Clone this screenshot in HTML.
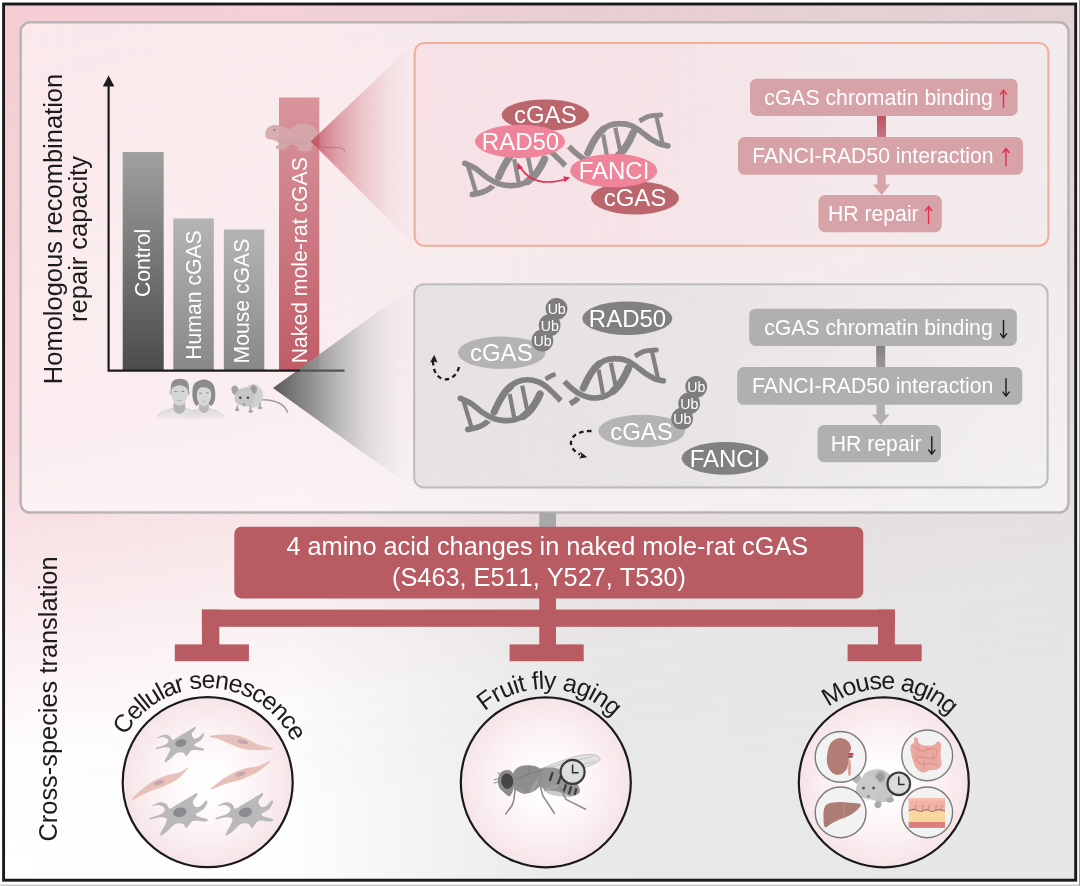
<!DOCTYPE html>
<html>
<head>
<meta charset="utf-8">
<title>Graphical abstract</title>
<style>
html,body{margin:0;padding:0;background:#fff;}
body{width:1080px;height:886px;overflow:hidden;font-family:"Liberation Sans",sans-serif;}
svg{display:block;will-change:transform;}
text{font-family:"Liberation Sans",sans-serif;}
</style>
</head>
<body>
<svg width="1080" height="886" viewBox="0 0 1080 886">
<defs>
  <linearGradient id="bgH" x1="0" y1="0" x2="1" y2="0">
    <stop offset="0" stop-color="#ffffff"/>
    <stop offset="0.27" stop-color="#fdfdfd"/>
    <stop offset="0.4" stop-color="#f3f3f3"/>
    <stop offset="0.53" stop-color="#e9e9e9"/>
    <stop offset="1" stop-color="#e6e6e6"/>
  </linearGradient>
  <linearGradient id="pinkH" x1="0" y1="0" x2="1" y2="0">
    <stop offset="0" stop-color="#f2c0c8" stop-opacity="0.8"/>
    <stop offset="0.5" stop-color="#e9bfc6" stop-opacity="0.68"/>
    <stop offset="1" stop-color="#dfbec3" stop-opacity="0.56"/>
  </linearGradient>
  <linearGradient id="maskV" gradientUnits="userSpaceOnUse" x1="0" y1="0" x2="127.6" y2="851">
    <stop offset="0.014" stop-color="#fff" stop-opacity="1"/>
    <stop offset="0.506" stop-color="#fff" stop-opacity="0.8"/>
    <stop offset="0.69" stop-color="#fff" stop-opacity="0.42"/>
    <stop offset="0.862" stop-color="#fff" stop-opacity="0.06"/>
    <stop offset="1" stop-color="#fff" stop-opacity="0"/>
  </linearGradient>
  <mask id="mPink" maskUnits="userSpaceOnUse" x="0" y="0" width="1080" height="886"><rect x="0" y="0" width="1080" height="886" fill="url(#maskV)"/></mask>
  <linearGradient id="barGray" x1="0" y1="0" x2="0" y2="1">
    <stop offset="0" stop-color="#a0a0a1"/>
    <stop offset="1" stop-color="#4b4b4d"/>
  </linearGradient>
  <linearGradient id="barGray2" x1="0" y1="0" x2="0" y2="1">
    <stop offset="0" stop-color="#b4b4b5"/>
    <stop offset="1" stop-color="#88888a"/>
  </linearGradient>
  <linearGradient id="barRed" x1="0" y1="0" x2="0" y2="1">
    <stop offset="0" stop-color="#d9959c"/>
    <stop offset="1" stop-color="#c05c68"/>
  </linearGradient>
  <linearGradient id="wedgeRed" gradientUnits="userSpaceOnUse" x1="311" y1="0" x2="415" y2="0">
    <stop offset="0" stop-color="#c04c5b" stop-opacity="0.9"/>
    <stop offset="0.1" stop-color="#c04c5b" stop-opacity="0.7"/>
    <stop offset="0.25" stop-color="#c04c5b" stop-opacity="0.47"/>
    <stop offset="0.5" stop-color="#c04c5b" stop-opacity="0.23"/>
    <stop offset="0.75" stop-color="#c04c5b" stop-opacity="0.07"/>
    <stop offset="1" stop-color="#c04c5b" stop-opacity="0"/>
  </linearGradient>
  <linearGradient id="wedgeGray" gradientUnits="userSpaceOnUse" x1="273" y1="0" x2="415" y2="0">
    <stop offset="0" stop-color="#58585a" stop-opacity="1"/>
    <stop offset="0.13" stop-color="#717173" stop-opacity="0.97"/>
    <stop offset="0.28" stop-color="#8d8d8f" stop-opacity="0.94"/>
    <stop offset="0.47" stop-color="#b4b3b5" stop-opacity="0.88"/>
    <stop offset="0.65" stop-color="#d3d0d2" stop-opacity="0.75"/>
    <stop offset="0.85" stop-color="#e8e3e5" stop-opacity="0.45"/>
    <stop offset="1" stop-color="#efe9eb" stop-opacity="0"/>
  </linearGradient>
  <linearGradient id="connRed" x1="0" y1="0" x2="0" y2="1">
    <stop offset="0" stop-color="#b95362"/>
    <stop offset="1" stop-color="#c97683"/>
  </linearGradient>
  <linearGradient id="connGray" x1="0" y1="0" x2="0" y2="1">
    <stop offset="0" stop-color="#7f7f7f"/>
    <stop offset="1" stop-color="#9a9a9a"/>
  </linearGradient>
  <radialGradient id="circFill" cx="0.5" cy="0.5" r="0.5">
    <stop offset="0" stop-color="#ffffff"/>
    <stop offset="0.3" stop-color="#fefbfc"/>
    <stop offset="0.65" stop-color="#fbf1f3"/>
    <stop offset="1" stop-color="#f6e4e7"/>
  </radialGradient>
<!--DNA--><g id="dnaShape" fill="none" stroke-linecap="round" stroke-linejoin="round">
<path d="M509.7 394.1L514.1 417.2M522.2 385.6L527.2 410.0" stroke-width="4.2" stroke-linecap="butt"/>
<path d="M463.3 400.3L471.7 427.8" stroke-width="4.2"/>
<path d="M545.6 379.2C546.4 378.7 548.9 377.0 550.6 376.1C552.2 375.3 554.7 374.4 555.6 374.1" stroke-width="4.6" stroke-linecap="butt"/>
<path d="M467.8 429.4C469.4 429.1 474.1 428.6 477.2 427.4C480.4 426.2 484.0 424.7 486.7 422.2C489.4 419.8 491.2 416.4 493.3 412.8C495.5 409.2 497.1 404.5 499.4 400.6C501.8 396.6 504.3 392.0 507.2 388.9C510.2 385.8 513.9 383.4 517.2 381.9C520.6 380.4 523.7 379.7 527.2 379.7C530.7 379.7 535.0 380.6 538.3 381.9C541.7 383.2 544.4 385.3 547.2 387.4C550.0 389.6 552.7 392.6 555.0 394.8C557.3 397.0 559.8 399.8 560.8 400.8" stroke-width="5.6" stroke-linecap="butt"/>
<path d="M467.8 429.4l0.1 0" stroke-width="5.6"/>
<path d="M480.0 410.8C481.4 411.7 485.6 414.6 488.3 416.1C491.1 417.6 495.3 419.0 496.7 419.6" stroke-width="8.6" stroke-linecap="butt" style="stroke:var(--gap)"/>
<path d="M460.3 398.3C462.2 399.3 467.9 401.5 471.7 403.9C475.4 406.3 479.1 410.3 482.8 412.8C486.5 415.2 490.2 417.3 493.9 418.6C497.6 419.9 501.3 420.4 505.0 420.6C508.7 420.7 512.6 420.5 516.1 419.4C519.6 418.4 523.1 416.7 526.1 414.4C529.1 412.2 531.7 409.1 533.9 406.1C536.1 403.1 538.1 398.5 539.2 396.3C540.4 394.1 540.5 393.6 540.8 393.0" stroke-width="5.6" stroke-linecap="butt"/>
<path d="M460.3 398.3l0.1 0" stroke-width="5.6"/>
<path d="M494.1 412.2C495.0 410.4 497.5 404.6 499.4 401.1C501.4 397.6 503.7 393.9 505.6 391.4C507.4 389.0 509.7 387.5 510.6 386.7" stroke-width="7" stroke-linecap="round"/>
<path d="M523.3 416.3C524.5 415.3 528.5 412.4 530.6 410.0C532.6 407.6 534.3 404.9 535.9 402.2C537.5 399.6 539.3 395.5 540.0 394.1" stroke-width="7.4" stroke-linecap="round"/>
<path d="M598.6 369.7L603.0 393.9M610.8 362.8L615.6 385.2" stroke-width="4.2" stroke-linecap="butt"/>
<path d="M652.2 352.8L658.1 378.6" stroke-width="4.2"/>
<path d="M635.0 356.1C636.5 355.3 640.3 352.5 643.9 351.4C647.4 350.4 654.3 350.2 656.3 350.0" stroke-width="4.8" stroke-linecap="butt"/>
<path d="M656.3 350.0l0.1 0" stroke-width="4.8"/>
<path d="M570.0 403.7C571.2 402.9 575.1 401.4 577.2 398.9C579.4 396.3 580.9 391.9 582.8 388.3C584.6 384.7 586.1 380.9 588.3 377.2C590.6 373.6 593.3 369.1 596.1 366.3C598.9 363.5 601.7 361.6 605.0 360.3C608.3 359.0 612.4 358.5 616.1 358.6C619.8 358.6 623.7 359.3 627.2 360.8C630.7 362.2 634.1 365.0 637.2 367.2C640.4 369.4 643.1 371.9 646.1 373.9C649.1 375.8 652.1 377.7 655.0 378.9C657.9 380.0 661.9 380.5 663.3 380.8" stroke-width="5.6" stroke-linecap="butt"/>
<path d="M663.3 380.8l0.1 0" stroke-width="5.6"/>
<path d="M568.3 385.2C569.5 386.2 573.1 389.3 575.6 391.1C578.1 392.9 582.0 395.1 583.3 395.9" stroke-width="8.6" stroke-linecap="butt" style="stroke:var(--gap)"/>
<path d="M564.4 381.4C565.6 382.6 569.2 386.3 571.7 388.3C574.2 390.4 576.7 392.4 579.4 393.9C582.2 395.4 585.4 396.6 588.3 397.2C591.3 397.9 594.1 398.2 597.2 397.9C600.4 397.6 604.1 396.8 607.2 395.2C610.4 393.7 613.5 391.2 616.1 388.6C618.7 385.9 620.8 382.6 622.8 379.4C624.7 376.3 626.7 371.6 627.8 369.4C628.9 367.3 629.0 367.1 629.2 366.7" stroke-width="5.6" stroke-linecap="butt"/>
<path d="M583.3 388.1C584.2 386.4 586.6 380.9 588.3 377.8C590.1 374.6 592.1 371.5 593.9 369.2C595.6 366.9 598.1 365.0 598.9 364.1" stroke-width="7" stroke-linecap="round"/>
<path d="M613.3 391.1C614.4 389.9 618.1 386.5 620.0 383.9C621.9 381.3 623.6 378.2 625.0 375.6C626.4 372.9 628.0 369.1 628.6 367.8" stroke-width="7.4" stroke-linecap="round"/>
</g><!--/DNA-->
<!--CELLDEF--><g id="starCell"><path d="M-23.9 -4.7C-23.8 -5.1 -19.4 -7.8 -17.3 -8.2C-15.2 -8.6 -13.0 -8.1 -11.5 -7.2C-10.0 -6.4 -9.7 -3.4 -8.3 -3.1C-7.0 -2.9 -5.7 -4.5 -3.1 -6.0C-0.6 -7.5 4.2 -10.3 7.1 -12.0C9.9 -13.6 12.6 -15.7 13.9 -16.1C15.1 -16.4 15.0 -15.4 14.5 -14.2C14.0 -13.0 11.0 -10.4 10.9 -8.8C10.7 -7.2 12.2 -4.9 13.4 -4.4C14.5 -3.9 16.4 -4.8 17.8 -5.7C19.2 -6.6 21.0 -9.3 21.9 -9.8C22.7 -10.2 23.3 -9.3 23.0 -8.2C22.7 -7.0 21.5 -4.4 20.0 -2.8C18.4 -1.3 14.5 0.2 13.7 1.3C12.9 2.3 13.7 2.7 15.3 3.5C16.8 4.2 21.8 5.0 22.8 5.7C23.9 6.3 23.5 7.3 21.6 7.6C19.6 7.8 13.5 6.5 11.0 7.2C8.6 8.0 7.8 11.0 6.8 12.0C5.7 12.9 5.6 13.3 4.9 12.9C4.2 12.5 4.1 10.3 2.7 9.8C1.3 9.2 -1.5 8.8 -3.6 9.8C-5.7 10.7 -8.0 13.7 -9.9 15.3C-11.9 16.8 -14.2 18.8 -15.3 19.2C-16.3 19.6 -16.7 19.2 -16.2 17.6C-15.7 16.1 -13.0 12.1 -12.1 10.1C-11.3 8.0 -10.3 6.3 -11.0 5.4C-11.8 4.4 -14.3 4.1 -16.5 4.2C-18.8 4.4 -23.1 5.9 -24.4 6.0C-25.7 6.0 -25.4 5.2 -24.1 4.6C-22.8 3.9 -18.4 2.9 -16.5 1.9C-14.6 0.9 -13.1 -0.2 -12.6 -1.3C-12.1 -2.3 -12.8 -3.6 -13.7 -4.4C-14.6 -5.2 -16.4 -5.9 -18.1 -6.0C-19.8 -6.0 -24.1 -4.4 -23.9 -4.7Z" fill="#b9b9ba"/><ellipse cx="0" cy="0" rx="5.6" ry="3.9" transform="rotate(-12)" fill="#8b8b8f"/></g><!--/CELLDEF-->
<linearGradient id="pinkPanel" x1="0" y1="0" x2="1" y2="0">
    <stop offset="0" stop-color="#f7d3dc" stop-opacity="0.38"/>
    <stop offset="0.45" stop-color="#f7d6de" stop-opacity="0.3"/>
    <stop offset="0.8" stop-color="#f8e2e8" stop-opacity="0.1"/>
    <stop offset="1" stop-color="#f8e2e8" stop-opacity="0.02"/>
  </linearGradient>
  <linearGradient id="grayPanel" x1="0" y1="0" x2="1" y2="0">
    <stop offset="0" stop-color="#d8d7d8" stop-opacity="0.52"/>
    <stop offset="0.45" stop-color="#dad9da" stop-opacity="0.44"/>
    <stop offset="0.8" stop-color="#e0e0e0" stop-opacity="0.2"/>
    <stop offset="1" stop-color="#e6e6e6" stop-opacity="0.04"/>
  </linearGradient>
</defs>

<!-- background -->
<rect x="0" y="0" width="1080" height="886" fill="#ffffff"/>
<rect x="3" y="3" width="1073" height="878" fill="url(#bgH)"/>
<rect x="3" y="3" width="1073" height="878" fill="url(#pinkH)" mask="url(#mPink)"/>

<!-- top big panel -->
<rect x="20.6" y="22.3" width="1047.9" height="490.3" rx="9.5" ry="9.5" fill="#ffffff" fill-opacity="0.55" stroke="#b9b4b7" stroke-width="2.5"/>

<!-- outer border -->
<rect x="3.6" y="4" width="1072.1" height="876.2" fill="none" stroke="#1a1a1a" stroke-width="2.9"/>
<rect x="0" y="884.5" width="1080" height="1.5" fill="#c9c9c9"/>
<rect x="1079" y="0" width="1" height="886" fill="#9a9a9a"/>

<!-- ===== CHART ===== -->
<g id="chart">
  <!-- wedges -->
  <!-- bars -->
  <rect x="122.7" y="152" width="41" height="218.5" fill="url(#barGray)"/>
  <rect x="173.3" y="218.5" width="40.5" height="152" fill="url(#barGray2)"/>
  <rect x="223.8" y="229.5" width="40.5" height="141" fill="url(#barGray2)"/>
  <rect x="279" y="97.5" width="40.3" height="273" fill="url(#barRed)"/>
  <!--NMR--><g id="nmr" opacity="0.9">
<path d="M313.3 145.6C315.6 145.9 323.1 147.1 327.2 147.4C331.4 147.7 335.7 147.4 338.3 147.6C341.0 147.8 341.9 148.2 343.0 148.8C344.0 149.4 344.4 150.9 344.6 151.3" fill="none" stroke="#d3a3a8" stroke-width="1.2" stroke-linecap="round"/>
<path d="M265.4 134.4C265.5 133.1 265.5 130.4 266.6 128.9C267.6 127.4 269.6 126.0 271.7 125.4C273.8 124.8 276.8 124.8 279.1 125.2C281.4 125.6 283.7 127.3 285.6 128.0C287.4 128.6 288.5 129.4 290.2 128.9C291.9 128.4 293.6 126.0 295.7 125.2C297.9 124.3 300.5 123.7 303.1 123.8C305.8 123.9 309.2 124.5 311.5 125.6C313.8 126.8 315.8 129.0 317.0 130.7C318.3 132.5 319.2 134.4 318.9 136.3C318.6 138.1 316.3 140.2 315.2 141.9C314.0 143.5 312.7 145.0 311.9 146.5C311.2 147.9 311.7 149.8 310.6 150.6C309.4 151.5 307.0 151.3 305.0 151.3C303.0 151.3 299.9 151.5 298.5 150.6C297.1 149.8 297.7 147.5 296.7 146.5C295.6 145.5 293.7 144.5 292.0 144.6C290.3 144.8 288.0 146.6 286.5 147.4C284.9 148.2 284.4 149.2 282.8 149.4C281.2 149.7 277.9 149.6 276.8 149.1C275.6 148.6 275.4 147.4 275.8 146.5C276.2 145.6 279.2 144.7 279.1 143.7C278.9 142.7 276.6 141.2 274.9 140.5C273.2 139.7 270.4 139.8 268.9 139.3C267.4 138.7 266.5 138.0 265.9 137.2C265.3 136.4 265.3 135.8 265.4 134.4Z" fill="#d4a9ad"/>
<circle cx="274.4" cy="129.8" r="0.9" fill="#6e5558"/>
<path d="M277.2 137.2C278.1 138.1 280.9 142.2 282.8 142.8C284.6 143.4 286.5 140.9 288.3 140.9C290.2 140.9 291.4 142.8 293.9 142.8C296.4 142.8 301.6 141.2 303.1 140.9" fill="none" stroke="#b99a96" stroke-width="1.6" stroke-dasharray="0.8 1.2" opacity="0.7"/>
</g><!--/NMR-->
  <polygon points="310.6,141.6 415,42.5 415,245.5" fill="url(#wedgeRed)"/>
  <polygon points="273,388 415,285 415,490" fill="url(#wedgeGray)"/>
  <!-- axes -->
  <path d="M300 370.7 H344.5" fill="none" stroke="#545456" stroke-width="2.2"/>
  <path d="M108.6 84 V370.7 H300" fill="none" stroke="#1c1c1c" stroke-width="2.2"/>
  <polygon points="108.6,75.5 114.4,86.5 102.8,86.5" fill="#1c1c1c"/>
  <!-- bar labels -->
  <g fill="#ffffff" font-size="21.2px">
    <text transform="translate(149.6,297) rotate(-90)">Control</text>
    <text transform="translate(200.5,359.8) rotate(-90)">Human cGAS</text>
    <text transform="translate(248.9,363.5) rotate(-90)">Mouse cGAS</text>
    <text transform="translate(306.5,363.3) rotate(-90)">Naked mole-rat cGAS</text>
  </g>
  <!-- y label -->
  <g fill="#1c1c1c" font-size="25.5px" text-anchor="middle">
    <text transform="translate(61.5,229) rotate(-90)">Homologous recombination</text>
    <text transform="translate(86.8,239) rotate(-90)">repair capacity</text>
  </g>
</g>

<!-- ===== PINK PANEL ===== -->
<g id="pinkpanel">
  <rect x="414.7" y="43" width="633.7" height="202.7" rx="9.5" ry="9.5" fill="url(#pinkPanel)" stroke="#f3ad99" stroke-width="2.1"/>
  <use href="#dnaShape" transform="translate(4.5,-235)" stroke="#8f8a8b" style="--gap:#f6e0e5"/>
  <ellipse cx="545.3" cy="115" rx="43.7" ry="15.6" fill="#bb666d"/>
  <ellipse cx="635" cy="198" rx="44" ry="16.4" fill="#bb666d"/>
  <ellipse cx="520" cy="141.4" rx="45" ry="16.6" fill="#ef849b"/>
  <ellipse cx="613.7" cy="170.7" rx="43.6" ry="16.6" fill="#ef849b"/>
  <g fill="#ffffff" font-size="24px" text-anchor="middle">
    <text x="545.3" y="123.3">cGAS</text>
    <text x="520.5" y="149.7">RAD50</text>
    <text x="614" y="179">FANCI</text>
    <text x="635" y="206.3">cGAS</text>
  </g>
  <!-- red double arrow -->
  <path d="M519.5 166 Q533 189 566.5 179" fill="none" stroke="#e0304e" stroke-width="1.6"/>
  <polygon points="517.6,162.6 523.2,168.2 517.3,169.6" fill="#e0304e"/>
  <polygon points="570.2,177.6 564.6,182.3 563.4,176.3" fill="#e0304e"/>
  <!-- boxes -->
  <rect x="877" y="115" width="9" height="23" fill="url(#connRed)"/>
  <rect x="877.3" y="174" width="8.4" height="12" fill="#d7a3a8"/>
  <polygon points="872.8,184.4 890.2,184.4 881.5,195" fill="#d7a3a8"/>
  <rect x="750" y="78.7" width="267.6" height="37.3" rx="6.5" fill="#d7a3a8"/>
  <rect x="738" y="137" width="285" height="37.8" rx="6.5" fill="#d7a3a8"/>
  <rect x="818.4" y="195" width="123.4" height="37.2" rx="6.5" fill="#d7a3a8"/>
  <g fill="#ffffff" font-size="21.2px">
    <text x="764.3" y="104.6">cGAS chromatin binding</text>
    <text x="752.2" y="162.8">FANCI-RAD50 interaction</text>
    <text x="828" y="220.7">HR repair</text>
  </g>
  <g stroke="#e0304e" stroke-width="1.4" fill="none">
    <path id="upArr" d="M0 9 V-8.5 M-3.4 -4.3 L0 -8.8 L3.4 -4.3" transform="translate(1003.5,99)"/>
    <path d="M0 9 V-8.5 M-3.4 -4.3 L0 -8.8 L3.4 -4.3" transform="translate(1006,157.3)"/>
    <path d="M0 9 V-8.5 M-3.4 -4.3 L0 -8.8 L3.4 -4.3" transform="translate(928.6,215.3)"/>
  </g>
</g>

<!-- ===== GRAY PANEL ===== -->
<g id="graypanel">
  <rect x="414.2" y="284.3" width="633.4" height="203.1" rx="9.5" ry="9.5" fill="url(#grayPanel)" stroke="#bebdbe" stroke-width="2.1"/>
  <use href="#dnaShape" stroke="#808080" style="--gap:#e4e1e2"/>
  <ellipse cx="501.7" cy="352.7" rx="43.8" ry="16.2" fill="#b4b4b5"/>
  <ellipse cx="641.7" cy="431" rx="43.4" ry="16.2" fill="#b4b4b5"/>
  <ellipse cx="627.3" cy="318.3" rx="45" ry="16.7" fill="#818181"/>
  <ellipse cx="725" cy="458.3" rx="43.4" ry="16.4" fill="#818181"/>
  <g fill="#7d7d7e">
    <circle cx="556.5" cy="308.8" r="10.9"/><circle cx="549.6" cy="325.2" r="10.9"/><circle cx="542.4" cy="340.5" r="10.9"/><circle cx="696.2" cy="386.8" r="10.9"/><circle cx="689.1" cy="403.4" r="10.9"/><circle cx="682.1" cy="418.6" r="10.9"/>
  </g>
  <g fill="#ffffff" font-size="14.2px" text-anchor="middle">
    <text x="556.7" y="314.3">Ub</text><text x="549.8" y="330.7">Ub</text><text x="542.6" y="346.0">Ub</text><text x="696.4" y="392.3">Ub</text><text x="689.3" y="408.9">Ub</text><text x="682.3" y="424.1">Ub</text>
  </g>
  <g fill="#ffffff" font-size="24px" text-anchor="middle">
    <text x="501.3" y="361.3">cGAS</text>
    <text x="627.5" y="327">RAD50</text>
    <text x="641.5" y="439.6">cGAS</text>
    <text x="725" y="467">FANCI</text>
  </g>
  <!-- dashed arrows -->
  <g fill="none" stroke="#1c1c1c" stroke-width="2.3" stroke-dasharray="4.4 3.6">
    <path d="M459 367 C456.5 377.5 447.5 381.5 441 378.3 C436 375.8 433.2 370 433 361"/>
    <path d="M591.5 431 C567 431 566 448 580 454.5"/>
  </g>
  <polygon points="434.2,354.8 437.6,362.6 433.6,361.3 430,362.8" fill="#1c1c1c"/>
  <polygon points="587.3,457.2 579.2,458.6 581.4,455.2 579.8,451.6" fill="#1c1c1c"/>
  <!-- boxes -->
  <g transform="translate(-0.8,-11)">
  <rect x="877" y="356" width="9" height="23" fill="url(#connGray)"/>
  <rect x="877.3" y="415" width="8.4" height="12" fill="#b0b0b1"/>
  <polygon points="872.8,425.4 890.2,425.4 881.5,436" fill="#b0b0b1"/>
  <rect x="750" y="319.7" width="267.6" height="37.3" rx="6.5" fill="#b0b0b1"/>
  <rect x="738" y="378" width="285" height="37.8" rx="6.5" fill="#b0b0b1"/>
  <rect x="818.4" y="436" width="123.4" height="37.2" rx="6.5" fill="#b0b0b1"/>
  <g fill="#ffffff" font-size="21.2px">
    <text x="765" y="345.6">cGAS chromatin binding</text>
    <text x="752.8" y="403.8">FANCI-RAD50 interaction</text>
    <text x="831.6" y="461.7">HR repair</text>
  </g>
  <g stroke="#1c1c1c" stroke-width="1.4" fill="none">
    <path d="M0 -9 V8.5 M-3.4 4.3 L0 8.8 L3.4 4.3" transform="translate(1004.3,340)"/>
    <path d="M0 -9 V8.5 M-3.4 4.3 L0 8.8 L3.4 4.3" transform="translate(1006.8,398.3)"/>
    <path d="M0 -9 V8.5 M-3.4 4.3 L0 8.8 L3.4 4.3" transform="translate(932.6,456.3)"/>
  </g>
  </g>
</g>

<!-- ===== BOTTOM ===== -->
<g id="bottom">
  <rect x="539.3" y="512.5" width="16.7" height="16" fill="#a9a8a9"/>
  <g fill="#b85b63">
    <rect x="234.3" y="526.8" width="629" height="71.6" rx="7" ry="7"/>
    <rect x="201.9" y="609.6" width="693" height="17.2"/>
    <rect x="201.9" y="609.6" width="17.4" height="36"/>
    <rect x="539.3" y="596" width="16.7" height="50"/>
    <rect x="878" y="609.6" width="16.9" height="36"/>
    <rect x="174.8" y="644.4" width="74.1" height="16.8"/>
    <rect x="509.6" y="644.4" width="74.1" height="16.8"/>
    <rect x="847.6" y="644.4" width="74.1" height="16.8"/>
  </g>
  <g fill="#ffffff" font-size="25.3px" text-anchor="middle">
    <text x="547.3" y="555.2">4 amino acid changes in naked mole-rat cGAS</text>
    <text x="539" y="585.8" style="font-kerning:none">(S463, E511, Y527, T530)</text>
  </g>
  <text x="0" y="0" transform="translate(57,699) rotate(-90)" font-size="25.4px" fill="#1c1c1c" text-anchor="middle">Cross-species translation</text>
  <!-- circles -->
  <g stroke="#1a1a1a" stroke-width="2.2" fill="url(#circFill)">
    <circle cx="207.7" cy="782.2" r="85"/>
    <circle cx="545.8" cy="782.3" r="85"/>
    <circle cx="883.8" cy="782.3" r="85"/>
  </g>
  <!-- arc labels -->
  <path id="arc1" d="M113.5 782.1 A94 94 0 0 1 301.5 782.1" fill="none"/>
  <path id="arc2" d="M452.1 782.3 A93.4 93.4 0 0 1 638.9 782.3" fill="none"/>
  <path id="arc3" d="M790.4 782.3 A93.4 93.4 0 0 1 977.2 782.3" fill="none"/>
  <g font-size="25px" fill="#1c1c1c" text-anchor="middle" letter-spacing="-1.1">
    <text><textPath href="#arc1" startOffset="51%">Cellular senescence</textPath></text>
    <text letter-spacing="-0.65"><textPath href="#arc2" startOffset="51.4%">Fruit fly aging</textPath></text>
    <text><textPath href="#arc3" startOffset="52.1%">Mouse aging</textPath></text>
  </g>
</g>

<!--CELLS--><g id="cells">
<path d="M210.0 736.2C211.3 735.5 221.8 734.5 227.3 734.7C232.8 734.9 237.8 735.6 243.1 737.4C248.3 739.1 253.8 743.0 258.8 744.9C263.8 746.8 273.0 748.0 273.0 748.8C273.0 749.7 263.8 750.0 258.8 749.9C253.8 749.9 247.5 749.3 243.1 748.4C238.6 747.5 236.0 746.2 232.0 744.6C228.1 743.0 223.1 740.3 219.4 738.9C215.8 737.5 208.7 737.0 210.0 736.2Z" fill="#e7c0b9" stroke="#e3b5b0" stroke-width="0.4"/>
<ellipse cx="242.7" cy="741.8" rx="5.3" ry="2" transform="rotate(12 242.7 741.8)" fill="#c6a4ae"/>
<path d="M132.1 799.2C132.1 798.0 143.2 788.1 148.6 784.3C154.0 780.5 159.1 778.4 164.4 776.4C169.6 774.4 176.2 773.9 180.1 772.5C184.0 771.0 188.2 766.8 188.0 767.7C187.7 768.6 182.5 774.9 178.5 778.0C174.6 781.0 169.3 783.6 164.4 785.8C159.4 788.1 154.0 789.4 148.6 791.7C143.2 793.9 132.1 800.4 132.1 799.2Z" fill="#e7c0b9" stroke="#e3b5b0" stroke-width="0.4"/>
<ellipse cx="158.8" cy="782.7" rx="5.3" ry="2" transform="rotate(-22 158.8 782.7)" fill="#c6a4ae"/>
<path d="M210.8 789.0C210.8 787.9 221.9 779.7 227.3 776.4C232.7 773.1 237.8 771.0 243.1 769.3C248.3 767.6 254.3 767.5 258.8 766.2C263.3 764.8 269.8 760.6 269.8 761.4C269.8 762.2 263.3 768.0 258.8 770.9C254.3 773.8 248.3 776.7 243.1 778.7C237.8 780.8 232.7 781.3 227.3 783.0C221.9 784.7 210.8 790.1 210.8 789.0Z" fill="#e7c0b9" stroke="#e3b5b0" stroke-width="0.4"/>
<ellipse cx="240.7" cy="774.0" rx="5.3" ry="2" transform="rotate(-20 240.7 774.0)" fill="#c6a4ae"/>
<use href="#starCell" transform="translate(180.9,743.0)"/>
<use href="#starCell" transform="translate(179.8,812.3) scale(1.2)"/>
<use href="#starCell" transform="translate(245.4,812.3) scale(1.2)"/>
</g><!--/CELLS-->
<!--FLY--><g id="fly">
<path d="M535.9 772.2C537.5 769.8 547.5 766.2 554.4 763.5C561.4 760.8 571.0 757.4 577.6 756.0C584.2 754.5 590.0 754.4 593.8 754.8C597.6 755.3 600.2 757.3 600.2 758.9C600.2 760.4 597.6 762.3 593.8 764.1C590.0 765.9 583.2 768.0 577.6 769.9C572.0 771.8 565.6 774.3 560.2 775.7C554.8 777.0 549.2 778.6 545.2 778.0C541.1 777.4 534.4 774.6 535.9 772.2Z" fill="#d9d9d9" fill-opacity="0.75" stroke="#9a9a9a" stroke-width="0.5"/>
<path d="M539.4 771.0L566.0 762.4L592.6 756.6M545.2 775.3L575.3 766.4L596.1 761.2" fill="none" stroke="#a8a8a8" stroke-width="0.5"/>
<path d="M539.4 769.9C541.1 767.1 546.1 767.6 549.8 767.6C553.5 767.6 557.5 768.1 561.4 769.9C565.2 771.7 570.0 775.6 573.0 778.6C576.0 781.6 578.4 785.3 579.3 787.8C580.3 790.3 580.2 792.2 578.8 793.6C577.3 795.1 573.9 796.2 570.6 796.5C567.4 796.8 562.9 796.3 559.1 795.3C555.2 794.4 550.8 792.6 547.5 790.7C544.2 788.9 540.7 787.8 539.4 784.4C538.0 780.9 537.7 772.7 539.4 769.9Z" fill="#959595"/>
<path d="M552.7 772.2L549.8 780.9" stroke="#3c3c3c" stroke-width="2.2" fill="none"/>
<path d="M560.8 776.2L557.3 785.5" stroke="#3c3c3c" stroke-width="2.2" fill="none"/>
<path d="M566.0 784.4L563.7 791.3" stroke="#3c3c3c" stroke-width="2.2" fill="none"/>
<path d="M571.2 786.1L568.9 794.2" stroke="#3c3c3c" stroke-width="2.2" fill="none"/>
<path d="M576.4 788.4L574.7 794.8" stroke="#3c3c3c" stroke-width="2.2" fill="none"/>
<path d="M545.2 790.7C546.3 790.2 552.5 790.3 556.8 791.3C561.0 792.3 569.9 795.6 570.6 796.5C571.4 797.4 564.9 796.9 561.4 796.5C557.9 796.1 552.5 795.2 549.8 794.2C547.1 793.2 544.0 791.2 545.2 790.7Z" fill="#c9c9c9"/>
<path d="M512.8 773.9C513.7 771.4 515.9 768.4 518.6 767.0C521.3 765.5 525.5 765.1 529.0 765.3C532.5 765.4 537.1 766.5 539.4 768.1C541.7 769.8 542.7 772.4 542.9 775.1C543.1 777.8 542.1 781.7 540.6 784.4C539.0 787.1 536.3 789.8 533.6 791.3C530.9 792.8 527.2 793.8 524.4 793.6C521.5 793.4 518.2 792.1 516.2 790.1C514.3 788.2 513.4 784.7 512.8 782.0C512.2 779.3 511.8 776.4 512.8 773.9Z" fill="#8e8e8e"/>
<path d="M529.0 766.4L529.6 773.9L542.9 769.9M529.6 773.9L515.1 779.7" stroke="#6f6f6f" stroke-width="0.6" fill="none"/>
<path d="M515.3 788.1L523.8 792.5" fill="none" stroke="#969696" stroke-width="3" stroke-linecap="round" stroke-linejoin="round"/>
<path d="M515.3 788.1L513.9 799.4L512.2 805.2L505.8 813.9" fill="none" stroke="#8b8b8b" stroke-width="1.6" stroke-linecap="round" stroke-linejoin="round"/>
<path d="M531.3 790.7L538.5 779.7" fill="none" stroke="#a2a2a2" stroke-width="3" stroke-linecap="round" stroke-linejoin="round"/>
<path d="M538.5 779.7L542.9 795.9L554.4 813.3" fill="none" stroke="#8b8b8b" stroke-width="1.6" stroke-linecap="round" stroke-linejoin="round"/>
<path d="M545.2 789.6L559.1 785.5" fill="none" stroke="#a2a2a2" stroke-width="3" stroke-linecap="round" stroke-linejoin="round"/>
<path d="M559.1 785.5L566.0 799.4L585.7 809.2" fill="none" stroke="#8b8b8b" stroke-width="1.6" stroke-linecap="round" stroke-linejoin="round"/>
<path d="M498.0 779.7C498.1 777.6 498.7 775.3 499.8 773.7C501.0 772.1 503.0 770.7 504.9 770.2C506.8 769.8 509.5 769.9 511.0 771.0C512.6 772.1 513.6 774.4 514.2 776.8C514.7 779.2 514.4 783.0 514.2 785.5C513.9 788.0 513.3 790.1 512.5 791.9C511.8 793.6 510.6 795.7 509.5 796.2C508.5 796.6 507.6 795.6 506.4 794.8C505.2 793.9 503.6 792.4 502.4 791.1C501.1 789.7 499.6 788.6 498.9 786.7C498.2 784.8 497.8 781.9 498.0 779.7Z" fill="#8c8c8c"/>
<path d="M498.7 778.6L494.3 779.7M498.7 781.5L494.0 783.2M500.6 774.5L497.7 772.8" stroke="#8c8c8c" stroke-width="1" fill="none" stroke-linecap="round"/>
<ellipse cx="507.2" cy="781.1" rx="5.9" ry="7.7" transform="rotate(-6 507.2 781.1)" fill="#454545"/>
<circle cx="572.6" cy="771.9" r="12" fill="#dedede" stroke="#3a3a3a" stroke-width="2.2"/>
<circle cx="572.6" cy="771.9" r="9.6" fill="none" stroke="#9a9a9a" stroke-width="0.9" stroke-dasharray="0.5 4.53"/>
<path d="M572.6 764.4V772.7H578.6" fill="none" stroke="#2e2e2e" stroke-width="1.5"/>
</g><!--/FLY-->
<!--MOUSE--><g id="mouseaging">
<path d="M864.3 773.9C866.5 771.4 871.2 769.9 874.6 769.4C878.1 769.0 882.0 769.4 885.0 770.9C888.0 772.4 890.8 775.4 892.4 778.3C894.0 781.3 894.6 785.5 894.6 788.7C894.6 791.9 894.0 795.4 892.4 797.6C890.8 799.8 888.0 801.5 885.0 802.0C882.0 802.5 878.1 801.8 874.6 800.6C871.2 799.3 866.5 797.3 864.3 794.6C862.0 791.9 861.3 787.7 861.3 784.3C861.3 780.8 862.0 776.4 864.3 773.9Z" fill="#c6c6c6"/>
<path d="M875.4 802.0C876.3 801.2 879.6 800.7 880.6 801.3C881.5 801.9 881.7 804.6 881.3 805.7C880.9 806.9 879.4 808.1 878.3 808.3C877.3 808.4 875.4 807.5 874.9 806.5C874.4 805.4 874.4 802.9 875.4 802.0Z" fill="#ababab"/>
<path d="M887.2 798.3C888.2 797.7 891.3 797.2 892.4 797.6C893.5 798.0 894.3 799.7 893.9 800.6C893.5 801.4 891.4 802.7 890.2 802.8C889.0 802.9 887.0 802.0 886.5 801.3C886.0 800.6 886.2 799.0 887.2 798.3Z" fill="#ababab"/>
<ellipse cx="856.9" cy="778.6" rx="4.4" ry="5.2" transform="rotate(-30 856.9 778.6)" fill="#b4b4b4"/>
<ellipse cx="880.1" cy="777.1" rx="5.2" ry="6" transform="rotate(20 880.1 777.1)" fill="#a9a9a9"/>
<ellipse cx="880.1" cy="777.4" rx="3.3" ry="4.2" transform="rotate(20 880.1 777.1)" fill="#999999"/>
<path d="M856.1 788.7C856.4 786.5 857.2 782.7 859.1 780.6C860.9 778.5 864.4 776.5 867.2 776.1C870.1 775.7 873.8 776.7 876.1 778.3C878.5 779.9 880.7 783.3 881.3 785.7C881.9 788.2 881.0 791.0 879.8 793.1C878.6 795.2 875.7 797.3 873.9 798.3C872.0 799.4 870.6 799.5 868.7 799.4C866.9 799.2 864.6 798.5 862.8 797.6C860.9 796.7 858.7 795.4 857.6 793.9C856.5 792.4 855.9 790.9 856.1 788.7Z" fill="#c9c9c9"/>
<circle cx="863.5" cy="788.1" r="1.5" fill="#5a5a5a"/>
<circle cx="873.6" cy="788.1" r="1.5" fill="#5a5a5a"/>
<ellipse cx="868.4" cy="796.4" rx="1.7" ry="1.3" fill="#8f8f8f"/>
<circle cx="840.6" cy="756.9" r="25.4" fill="#f3f2f2" stroke="#7b7b7b" stroke-width="1.4"/>
<circle cx="927.2" cy="755.4" r="25.4" fill="#f3f2f2" stroke="#7b7b7b" stroke-width="1.4"/>
<circle cx="840.6" cy="812.4" r="25.4" fill="#f3f2f2" stroke="#7b7b7b" stroke-width="1.4"/>
<circle cx="927.2" cy="812.4" r="25.4" fill="#f3f2f2" stroke="#7b7b7b" stroke-width="1.4"/>
<path d="M849.1 758.3C849.8 759.0 850.7 760.8 850.9 763.5C851.2 766.2 851.1 772.8 850.6 774.6C850.2 776.5 848.7 776.2 848.3 774.6C847.8 773.0 848.2 767.5 848.0 765.0C847.7 762.5 846.6 760.9 846.8 759.8C847.0 758.7 848.5 757.7 849.1 758.3Z" fill="#d9a79a"/>
<rect x="846.5" y="752.9" width="6.8" height="2.7" fill="#c8433f" />
<rect x="846.5" y="755.5" width="6.2" height="2.4" fill="#6e6a6e" />
<path d="M827.2 754.6C827.8 750.9 828.8 745.5 830.9 742.8C833.0 740.0 837.0 738.3 839.8 738.0C842.7 737.8 846.1 739.5 848.0 741.3C849.9 743.1 851.2 746.4 851.2 748.7C851.2 751.0 848.5 753.1 848.0 755.4C847.5 757.6 848.5 759.7 848.3 762.0C848.0 764.4 847.9 767.3 846.5 769.4C845.1 771.5 842.2 774.0 839.8 774.6C837.5 775.2 834.5 774.8 832.4 773.1C830.4 771.5 828.4 768.1 827.5 765.0C826.7 761.9 826.7 758.3 827.2 754.6Z" fill="#b27d74"/>
<path d="M910.5 745.7C910.9 743.8 913.2 744.1 913.9 742.8C914.6 741.4 914.0 738.3 914.6 737.6C915.2 736.9 916.9 737.3 917.6 738.3C918.3 739.3 917.6 742.3 919.1 743.5C920.6 744.8 924.0 745.5 926.5 745.7C929.0 746.0 932.0 745.7 933.9 745.0C935.7 744.3 936.4 741.7 937.6 741.6C938.8 741.5 940.5 742.1 941.0 744.3C941.5 746.4 940.5 751.2 940.6 754.6C940.6 758.1 941.9 762.5 941.3 765.0C940.7 767.5 938.8 768.6 936.9 769.4C934.9 770.3 931.7 769.6 929.4 770.2C927.2 770.7 925.5 772.8 923.5 772.7C921.5 772.6 919.2 771.0 917.6 769.4C916.0 767.9 914.9 766.0 913.9 763.5C912.9 761.0 911.9 757.6 911.4 754.6C910.8 751.7 910.1 747.7 910.5 745.7Z" fill="#eaa9a1"/>
<path d="M914.6 747.2C915.9 747.8 919.3 750.7 922.0 750.9C924.8 751.2 928.5 748.8 930.9 748.7C933.4 748.6 936.1 748.8 936.9 750.2C937.6 751.5 936.9 755.5 935.4 756.9C933.9 758.2 930.4 758.3 928.0 758.3C925.5 758.3 922.5 756.6 920.6 756.9C918.6 757.1 915.9 758.6 916.1 759.8C916.4 761.0 919.6 763.6 922.0 764.3C924.5 764.9 928.5 763.4 930.9 763.5C933.4 763.6 935.9 764.8 936.9 765.0" fill="none" stroke="#d98d88" stroke-width="1.1" stroke-linecap="round"/>
<path d="M917.6 742.8C917.7 744.3 918.7 749.3 918.3 751.7C918.0 754.0 915.9 756.0 915.4 756.9M926.5 747.2L925.7 755.4M932.4 751.7L933.1 761.3M923.5 759.8L924.3 768.7" fill="none" stroke="#dc928c" stroke-width="0.9" stroke-linecap="round"/>
<path d="M824.3 808.0C825.1 805.5 826.2 804.5 828.7 803.5C831.2 802.5 835.6 802.2 839.1 802.0C842.5 801.9 845.9 802.4 849.4 802.8C853.0 803.1 859.3 803.0 860.6 804.3C861.8 805.5 858.7 808.3 856.9 810.2C855.0 812.0 852.2 813.9 849.4 815.4C846.7 816.9 843.5 817.7 840.6 819.1C837.6 820.4 834.3 822.2 831.7 823.5C829.1 824.9 826.4 828.1 825.0 827.2C823.6 826.4 823.6 821.5 823.5 818.3C823.4 815.1 823.4 810.4 824.3 808.0Z" fill="#ad7c74"/>
<path d="M843.8 803.2L844.4 819.1" stroke="#c9a08f" stroke-width="0.6"/>
<rect x="908.7" y="798.3" width="36.3" height="12.6" fill="#f2b3a2" />
<rect x="908.7" y="798.3" width="36.3" height="2.5" fill="#f5bdb3" />
<rect x="908.7" y="810.9" width="36.3" height="11.9" fill="#f9d89c" />
<rect x="908.7" y="822.0" width="36.3" height="5.9" fill="#dc7d80" />
<path d="M908.7 810.6C909.7 810.4 912.7 809.3 914.6 809.4C916.6 809.6 918.6 811.5 920.6 811.5C922.5 811.6 924.5 809.7 926.5 809.7C928.5 809.7 930.4 811.5 932.4 811.5C934.4 811.5 936.2 809.8 938.3 809.7C940.4 809.6 943.9 810.7 945.0 810.9" fill="none" stroke="#85686e" stroke-width="1"/>
<path d="M914.6 809.7l1.5 -5M922.0 810.9l1 -6M928.0 810.0l1.5 -6M935.4 810.6l1 -6M941.3 810.3l1 -6" stroke="#a07f8a" stroke-width="0.7" fill="none"/>
<circle cx="898.8" cy="783.8" r="11.3" fill="#dcdbdb" stroke="#3a3a3a" stroke-width="2.2"/>
<circle cx="898.8" cy="783.8" r="8.9" fill="none" stroke="#9a9a9a" stroke-width="0.9" stroke-dasharray="0.5 4.16"/>
<path d="M898.8 776.5V784.6H904.6" fill="none" stroke="#2e2e2e" stroke-width="1.5"/>
</g><!--/MOUSE-->
<!--ICONS--><g id="chartIcons">
<defs><linearGradient id="shFade" x1="0" y1="0" x2="0" y2="1"><stop offset="0" stop-color="#d6d6d6" stop-opacity="0.95"/><stop offset="0.55" stop-color="#dedede" stop-opacity="0.7"/><stop offset="1" stop-color="#e8e4e5" stop-opacity="0"/></linearGradient></defs>
<path d="M156.2 416.4C156.2 415.1 159.8 412.9 162.5 411.6C165.2 410.2 169.4 409.2 172.2 408.4C175.0 407.6 177.0 406.7 179.4 406.7C181.9 406.7 184.1 407.6 186.8 408.4C189.5 409.2 193.4 410.2 195.8 411.6C198.3 412.9 201.4 415.1 201.4 416.4C201.4 417.8 199.5 419.2 195.8 419.9C192.2 420.7 185.0 420.9 179.4 420.9C173.9 420.9 166.4 420.7 162.5 419.9C158.6 419.2 156.2 417.8 156.2 416.4Z" fill="url(#shFade)"/>
<path d="M182.6 416.4C182.6 415.2 186.5 413.5 188.9 412.3C191.3 411.1 194.7 410.0 197.2 409.2C199.7 408.5 201.6 407.8 203.9 407.8C206.2 407.8 208.5 408.5 211.1 409.2C213.7 410.0 217.2 411.1 219.4 412.3C221.6 413.5 224.3 415.2 224.3 416.4C224.3 417.7 222.8 419.2 219.4 419.9C216.0 420.7 209.0 420.9 203.9 420.9C198.8 420.9 192.4 420.7 188.9 419.9C185.3 419.2 182.6 417.7 182.6 416.4Z" fill="url(#shFade)"/>
<path d="M157.2 416.2C158.1 415.4 160.0 412.9 162.5 411.6C165.0 410.3 169.4 409.2 172.2 408.4C175.0 407.6 177.0 406.7 179.4 406.7C181.9 406.7 184.4 407.6 186.8 408.4C189.3 409.1 192.9 410.7 194.2 411.2" fill="none" stroke="#c2c2c2" stroke-width="0.5"/>
<path d="M191.7 410.6C192.6 410.4 195.2 409.7 197.2 409.2C199.3 408.8 201.6 407.8 203.9 407.8C206.2 407.8 208.5 408.5 211.1 409.2C213.7 410.0 217.4 411.1 219.4 412.3C221.5 413.4 222.9 415.5 223.6 416.2" fill="none" stroke="#c2c2c2" stroke-width="0.5"/>
<path d="M174.7 401.9C176.4 400.5 182.4 400.5 184.0 401.9C185.7 403.2 185.5 408.2 184.7 410.2C184.0 412.2 181.2 413.7 179.4 413.7C177.6 413.7 174.7 412.2 173.9 410.2C173.1 408.2 173.0 403.2 174.7 401.9Z" fill="#b4b4b4"/>
<path d="M200.0 403.2C201.4 402.1 206.7 402.1 208.1 403.2C209.4 404.4 209.0 408.6 208.3 410.2C207.6 411.8 205.4 413.0 203.9 413.0C202.4 413.0 200.1 411.8 199.4 410.2C198.8 408.6 198.6 404.4 200.0 403.2Z" fill="#b9b9b9"/>
<ellipse cx="170.6" cy="392.8" rx="1.2" ry="2.4" fill="#c4c4c4" />
<ellipse cx="188.5" cy="392.8" rx="1.2" ry="2.4" fill="#c4c4c4" />
<path d="M170.8 387.3C171.1 385.0 171.5 382.5 172.9 381.0C174.4 379.6 177.2 378.7 179.4 378.7C181.7 378.6 184.8 379.3 186.4 380.6C188.0 381.9 188.6 384.2 188.9 386.6C189.2 389.0 188.6 394.6 188.2 394.9C187.8 395.3 187.8 390.2 186.4 388.7C184.9 387.2 181.7 385.9 179.4 385.9C177.2 385.9 174.2 387.2 172.9 388.7C171.6 390.2 171.9 395.1 171.5 394.9C171.2 394.7 170.6 389.6 170.8 387.3Z" fill="#8e8e8e"/>
<path d="M171.9 388.7C173.2 386.7 176.9 385.2 179.4 385.2C182.0 385.2 185.9 386.7 187.2 388.7C188.5 390.6 187.8 394.5 187.2 397.0C186.7 399.5 185.3 402.2 184.0 403.7C182.7 405.1 180.9 405.6 179.4 405.6C177.9 405.6 176.2 405.1 175.0 403.7C173.8 402.2 172.5 399.5 171.9 397.0C171.4 394.5 170.7 390.6 171.9 388.7Z" fill="#d5d5d5"/>
<path d="M174.7 391.4l2.5 0.4M181.7 391.7l2.5 -0.4" stroke="#7a7a7a" stroke-width="0.9" fill="none"/>
<path d="M177.5 400.5l3.6 0" stroke="#a9a3a3" stroke-width="0.8" fill="none"/>
<path d="M192.4 392.8C192.5 389.8 192.5 386.0 194.4 383.8C196.4 381.6 200.8 379.6 203.9 379.6C206.9 379.6 210.9 381.6 212.8 383.8C214.7 386.0 215.0 389.8 215.3 392.8C215.5 395.8 215.1 399.8 214.2 401.9C213.2 403.9 211.4 406.8 209.7 405.3C208.0 403.8 205.9 392.8 203.9 392.8C201.9 392.8 199.6 403.8 197.9 405.3C196.2 406.8 194.7 403.9 193.8 401.9C192.8 399.8 192.2 395.8 192.4 392.8Z" fill="#8b8b8b"/>
<path d="M196.9 391.4C197.5 389.5 198.8 387.8 200.7 387.3C202.6 386.8 206.6 387.5 208.3 388.4C210.1 389.3 210.7 391.1 211.1 392.8C211.5 394.6 211.1 397.2 210.6 399.1C210.0 401.0 208.8 403.1 207.6 404.2C206.5 405.4 205.2 406.0 203.9 406.0C202.6 406.0 201.1 405.4 200.0 404.2C198.9 403.1 197.7 401.2 197.2 399.1C196.7 397.0 196.4 393.4 196.9 391.4Z" fill="#d8d8d8"/>
<path d="M194.2 392.8C194.1 390.3 194.2 386.6 195.8 384.5C197.5 382.4 201.2 380.4 203.9 380.3C206.6 380.2 210.2 382.0 211.8 383.8C213.4 385.7 214.2 390.8 213.6 391.4C213.0 392.1 210.4 388.7 208.3 388.0C206.3 387.2 203.2 386.4 201.4 387.0C199.5 387.6 198.0 389.3 197.2 391.4C196.4 393.6 197.0 399.5 196.5 399.8C196.0 400.0 194.3 395.4 194.2 392.8Z" fill="#8b8b8b"/>
<path d="M199.3 393.1l2.4 0.3M206.2 393.1l2.4 -0.3" stroke="#7a7a7a" stroke-width="0.9" fill="none"/>
<path d="M202.2 401.4l3.2 0" stroke="#a9a3a3" stroke-width="0.8" fill="none"/>
<path d="M261.1 399.8C262.7 399.9 267.8 399.9 270.8 400.5C273.8 401.1 276.9 402.1 279.2 403.2C281.5 404.4 283.3 406.0 284.7 407.4C286.1 408.9 287.0 411.2 287.5 412.0" fill="none" stroke="#9b9b9b" stroke-width="1.5" stroke-linecap="round"/>
<ellipse cx="253.1" cy="395.9" rx="10.0" ry="11.7" fill="#d1d1d1" />
<ellipse cx="237.2" cy="409.8" rx="2.2" ry="1.5" fill="#a6a6a6" />
<ellipse cx="250.7" cy="411.2" rx="2.2" ry="1.5" fill="#a6a6a6" />
<ellipse cx="260.0" cy="407.7" rx="2.2" ry="1.5" fill="#a6a6a6" />
<path d="M237.5 405.3L237.2 409.2M250.3 406.0L250.6 410.6M259.7 403.2L260.0 407.0" stroke="#b0b0b0" stroke-width="2" fill="none"/>
<ellipse cx="235.0" cy="390.1" rx="3.5" ry="4.6" fill="#a3a3a3" transform="rotate(-15 235.0 390.1)" />
<ellipse cx="253.3" cy="389.8" rx="3.8" ry="5.0" fill="#a9a9a9" transform="rotate(12 253.3 389.8)" />
<ellipse cx="253.3" cy="390.1" rx="2.2" ry="3.5" fill="#969696" transform="rotate(12 253.3 390.1)" />
<path d="M234.7 398.4C234.8 396.5 235.2 393.2 236.8 391.4C238.4 389.6 241.9 387.7 244.4 387.6C247.0 387.4 250.4 388.9 252.1 390.8C253.7 392.6 254.4 396.2 254.4 398.4C254.4 400.6 253.5 402.6 252.1 403.9C250.6 405.3 247.8 406.5 245.8 406.7C243.9 407.0 241.9 406.0 240.3 405.3C238.7 404.6 237.0 403.7 236.1 402.6C235.2 401.4 234.6 400.2 234.7 398.4Z" fill="#c6c6c6"/>
<circle cx="240.3" cy="397.7" r="1.3" fill="#4a4a4a"/>
<circle cx="247.9" cy="397.7" r="1.3" fill="#4a4a4a"/>
<ellipse cx="244.2" cy="404.2" rx="1.4" ry="1.0" fill="#9a9090" />
</g><!--/ICONS-->
<g id="SECTIONS"></g>
</svg>
</body>
</html>
